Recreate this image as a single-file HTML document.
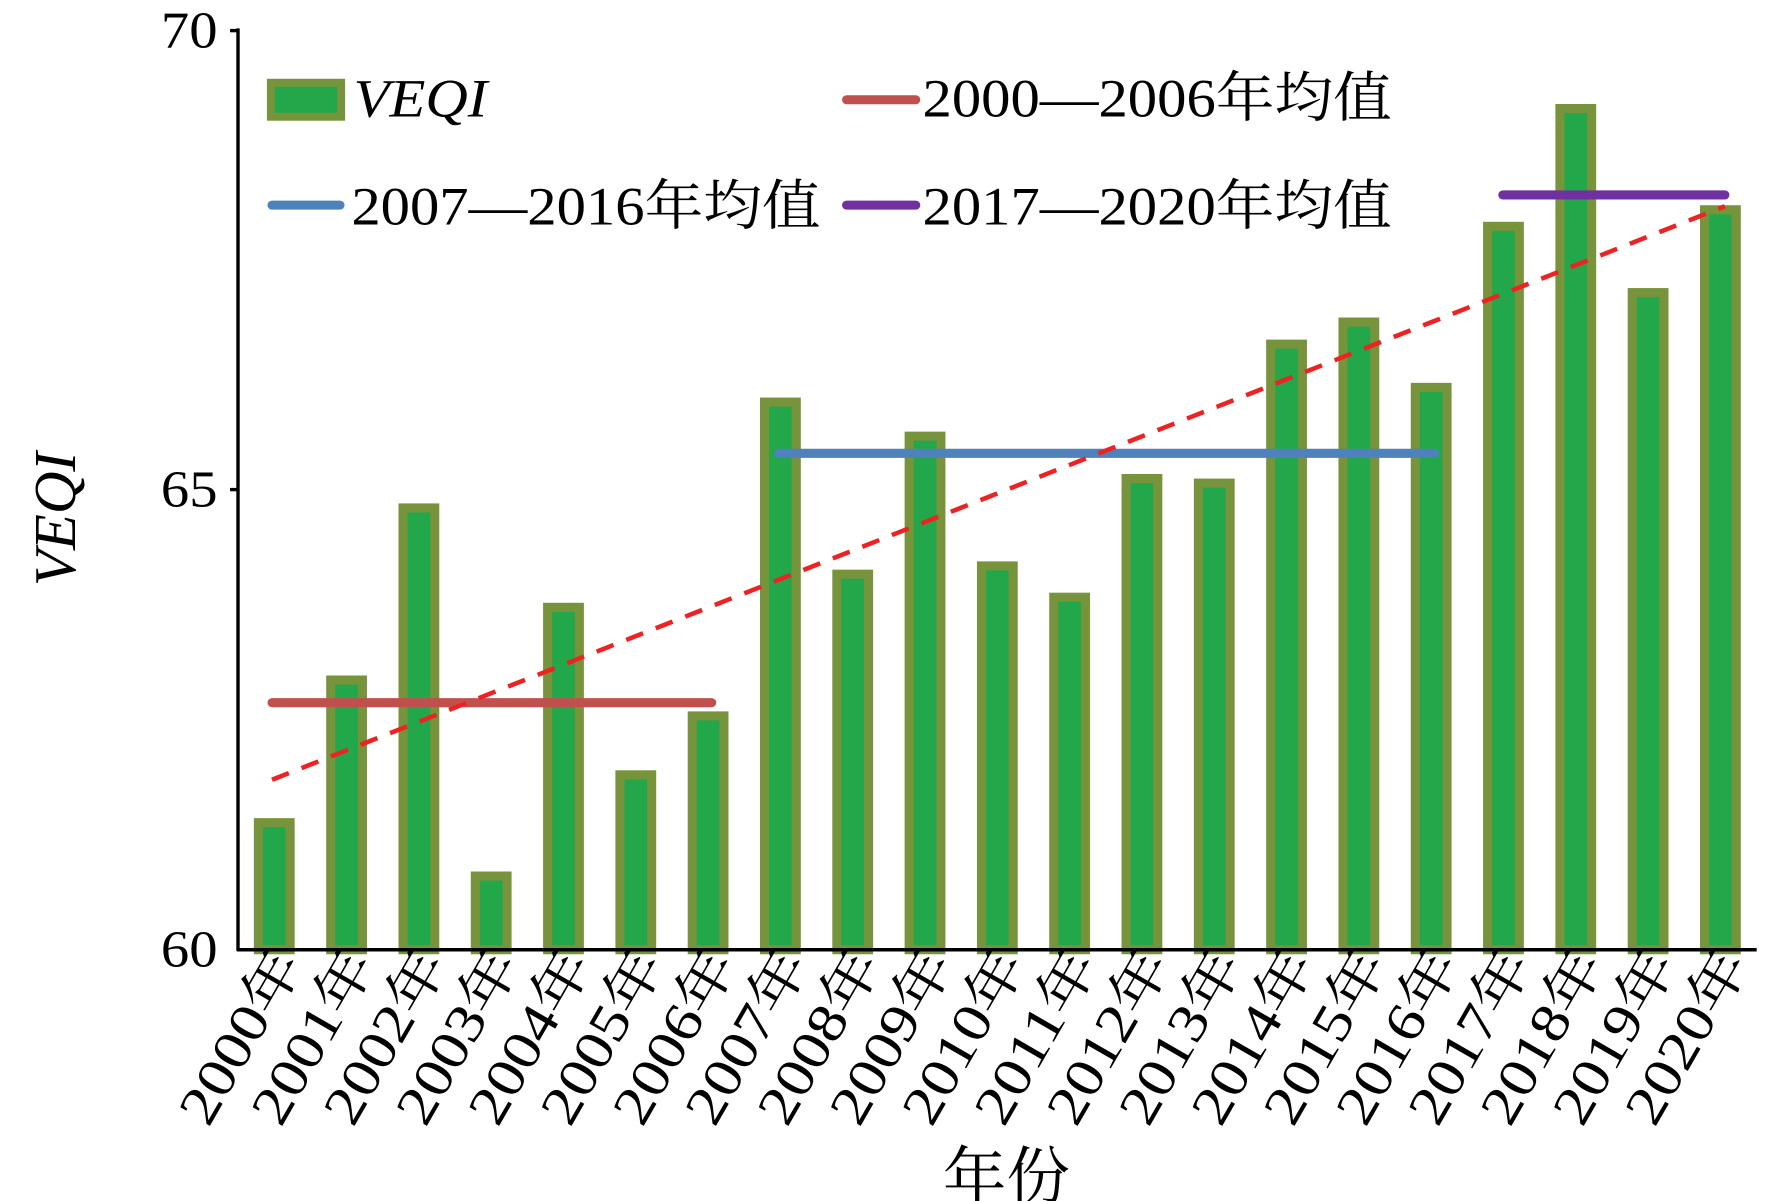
<!DOCTYPE html>
<html><head><meta charset="utf-8"><style>html,body{margin:0;padding:0;background:#fff}svg{display:block}</style></head>
<body>
<svg width="1768" height="1201" viewBox="0 0 1560 1059.7" preserveAspectRatio="none" xmlns="http://www.w3.org/2000/svg" font-family="'Liberation Serif','Noto Serif CJK SC',serif">
<g id="bars" fill="#22a84a" stroke="#77933c" stroke-width="8">
</g>
<script>
var vals=[61.43,62.98,64.85,60.85,63.77,61.95,62.59,66.0,64.13,65.63,64.22,63.88,65.17,65.12,66.63,66.87,66.16,67.91,69.19,67.19,68.09];
var g=document.getElementById('bars'),ns='http://www.w3.org/2000/svg';
var svg=g.ownerSVGElement;
vals.forEach(function(v,i){var cx=242+i*63.8,top=838-(v-60)*81.2;
var r=document.createElementNS(ns,'rect');r.setAttribute('x',cx-14);r.setAttribute('y',top+4);r.setAttribute('width',28);r.setAttribute('height',838-top-4);g.appendChild(r);
var t=document.createElementNS(ns,'text');t.setAttribute('transform','translate('+(cx+26)+',850) rotate(-60)');t.setAttribute('text-anchor','end');t.setAttribute('font-size','48');t.setAttribute('textLength','168');t.setAttribute('lengthAdjust','spacingAndGlyphs');t.textContent=(2000+i)+'年';svg.appendChild(t);});
</script>
<line x1="240" y1="620" x2="628" y2="620" stroke="#c0504d" stroke-width="8" stroke-linecap="round"/>
<line x1="687" y1="400" x2="1266" y2="400" stroke="#4f81bd" stroke-width="8" stroke-linecap="round"/>
<line x1="1326" y1="172" x2="1522" y2="172" stroke="#7030a0" stroke-width="8" stroke-linecap="round"/>
<line x1="240" y1="688" x2="1522" y2="182" stroke="#ee2222" stroke-width="4" stroke-dasharray="16,12"/>
<g stroke="#000" stroke-width="3">
<line x1="210" y1="25" x2="210" y2="839"/>
<line x1="209" y1="838" x2="1550" y2="838"/>
<line x1="203" y1="27" x2="210" y2="27"/><line x1="203" y1="432" x2="210" y2="432"/>
</g>
<g font-size="46" text-anchor="end">
<text x="192" y="42" textLength="50" lengthAdjust="spacingAndGlyphs">70</text><text x="192" y="447" textLength="50" lengthAdjust="spacingAndGlyphs">65</text><text x="192" y="853" textLength="50" lengthAdjust="spacingAndGlyphs">60</text>
</g>
<text transform="translate(66,458) rotate(-90)" font-size="52" font-style="italic" text-anchor="middle">VEQI</text>
<text x="888" y="1058" font-size="56" text-anchor="middle">年份</text>
<rect x="239" y="73" width="62" height="30" fill="#22a84a" stroke="#77933c" stroke-width="7"/>
<text x="312" y="103" font-size="48" font-style="italic" textLength="118" lengthAdjust="spacingAndGlyphs">VEQI</text>
<line x1="747" y1="88" x2="808" y2="88" stroke="#c0504d" stroke-width="8" stroke-linecap="round"/>
<text x="814" y="103" font-size="48" textLength="414" lengthAdjust="spacingAndGlyphs">2000—2006年均值</text>
<line x1="240" y1="181" x2="300" y2="181" stroke="#4f81bd" stroke-width="8" stroke-linecap="round"/>
<text x="310" y="198" font-size="48" textLength="414" lengthAdjust="spacingAndGlyphs">2007—2016年均值</text>
<line x1="747" y1="181" x2="808" y2="181" stroke="#7030a0" stroke-width="8" stroke-linecap="round"/>
<text x="814" y="198" font-size="48" textLength="414" lengthAdjust="spacingAndGlyphs">2017—2020年均值</text>
</svg>
</body></html>
